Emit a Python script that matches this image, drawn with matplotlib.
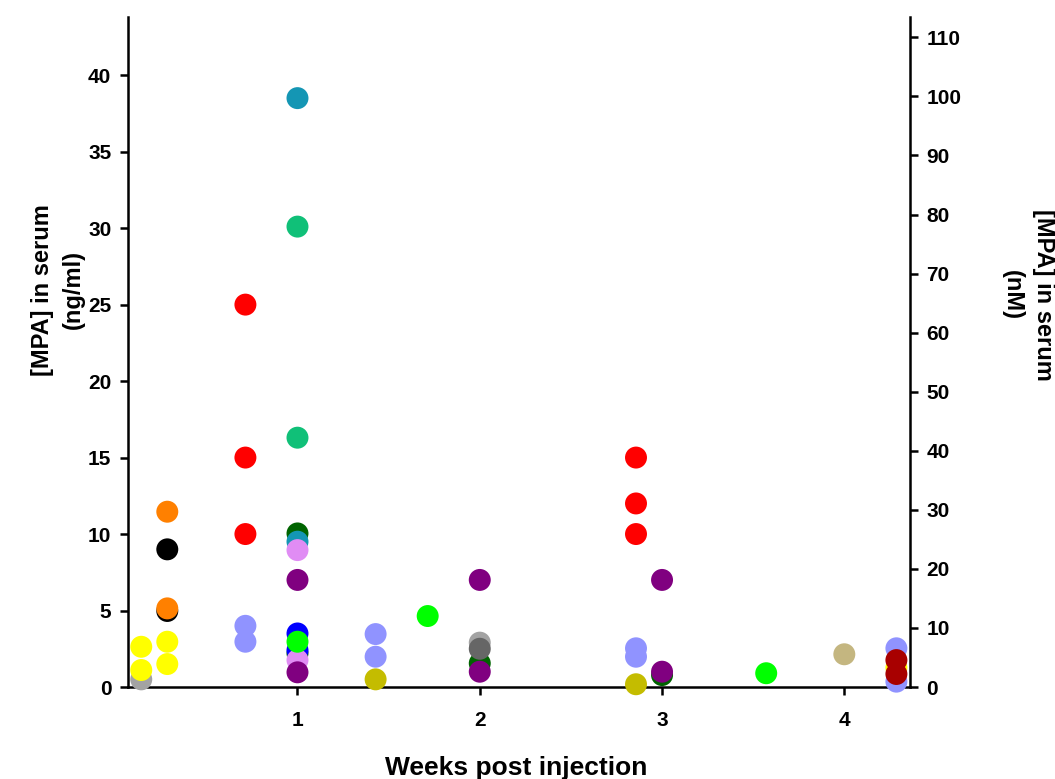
import matplotlib
matplotlib.use("Agg")
import matplotlib.pyplot as plt

plt.rcParams["font.family"] = ["Liberation Sans", "DejaVu Sans"]
plt.rcParams["font.weight"] = "bold"

# ng/ml -> nM for MPA (MW ~386 g/mol)
NG_TO_NM = 2.59

# ── Serum MPA per animal: (day, ng/ml) ─────────────────────────────────────────
gray_days = [1, 14]
gray_vals = [0.5, 2.9]

yellow_days = [1, 1, 2, 2, 30]
yellow_vals = [2.63, 1.11, 2.96, 1.5, 1.25]

black_days = [2, 2]
black_vals = [9.0, 4.97]

orange_days = [2, 2]
orange_vals = [11.46, 5.14]

lavender_days = [5, 5, 10, 10, 20, 20, 30, 30]
lavender_vals = [4.0, 2.96, 3.46, 1.98, 2.53, 1.98, 2.53, 0.35]

dkgreen_days = [7, 7, 14, 21]
dkgreen_vals = [10.04, 2.2, 1.55, 0.78]

teal_days = [7, 7]
teal_vals = [38.5, 9.5]

seagreen_days = [7, 7]
seagreen_vals = [30.1, 16.3]

blue_days = [7, 7]
blue_vals = [3.5, 2.4]

violet_days = [7, 7]
violet_vals = [8.95, 1.76]

green_days = [7, 12, 25]
green_vals = [2.96, 4.64, 0.9]

purple_days = [7, 7, 14, 14, 21, 21]
purple_vals = [7.0, 0.96, 7.0, 1.0, 7.0, 1.0]

red_days = [5, 5, 5, 20, 20, 20]
red_vals = [25.0, 15.0, 10.0, 15.0, 12.0, 10.0]

dkgray_days = [14]
dkgray_vals = [2.5]

olive_days = [10, 20]
olive_vals = [0.5, 0.18]

khaki_days = [28]
khaki_vals = [2.14]

dkred_days = [30, 30]
dkred_vals = [1.76, 0.85]

series = [
    (gray_days, gray_vals, "#a3a3a3"),
    (yellow_days, yellow_vals, "#ffff00"),
    (black_days, black_vals, "#000000"),
    (orange_days, orange_vals, "#ff8000"),
    (lavender_days, lavender_vals, "#9093ff"),
    (dkgreen_days, dkgreen_vals, "#006400"),
    (teal_days, teal_vals, "#1496b4"),
    (seagreen_days, seagreen_vals, "#10c078"),
    (blue_days, blue_vals, "#0000ff"),
    (violet_days, violet_vals, "#e08cf4"),
    (green_days, green_vals, "#00ff00"),
    (purple_days, purple_vals, "#800080"),
    (red_days, red_vals, "#ff0000"),
    (dkgray_days, dkgray_vals, "#666666"),
    (olive_days, olive_vals, "#c4bc00"),
    (khaki_days, khaki_vals, "#c4b680"),
    (dkred_days, dkred_vals, "#a80000"),
]

fig = plt.figure(figsize=(10.55, 7.79), dpi=100, facecolor="white")
ax = fig.add_axes([0.1213, 0.1181, 0.7412, 0.860])

for days, vals, color in series:
    ax.scatter([d / 7 for d in days], vals, s=250, color=color,
               edgecolors="none", clip_on=False, zorder=3)

ax.set_xlim(0.07, 4.36)
ax.set_ylim(0, 43.8)
ax.set_xticks([1, 2, 3, 4])
ax.set_yticks(range(0, 45, 5))

ax.spines["top"].set_visible(False)
ax.spines["right"].set_visible(False)
for s in ("left", "bottom"):
    ax.spines[s].set_linewidth(1.8)
ax.tick_params(axis="both", width=1.8, length=6, labelsize=15)
ax.tick_params(axis="x", pad=11)
ax.tick_params(axis="y", pad=6)

ax.set_xlabel("Weeks post injection", fontsize=19, fontweight="bold",
              va="center")
ax.xaxis.set_label_coords(0.497, -0.121)
ax.set_ylabel("[MPA] in serum\n(ng/ml)", fontsize=17, fontweight="bold",
              linespacing=1.45, va="center")
ax.yaxis.set_label_coords(-0.09, 0.593)

# nM scale on the right
ax2 = ax.twinx()
ax2.set_ylim(0, 43.8 * NG_TO_NM)
ax2.set_yticks(range(0, 111, 10))
ax2.spines["top"].set_visible(False)
ax2.spines["left"].set_visible(False)
ax2.spines["bottom"].set_visible(False)
ax2.spines["right"].set_linewidth(1.8)
ax2.tick_params(axis="y", width=1.8, length=6, labelsize=15, pad=6)
ax2.set_ylabel("[MPA] in serum\n(nM)", fontsize=17, fontweight="bold",
               rotation=-90, linespacing=1.45, va="center")
ax2.yaxis.set_label_coords(1.151, 0.585)

fig.savefig("out.png", dpi=100, facecolor="white")
